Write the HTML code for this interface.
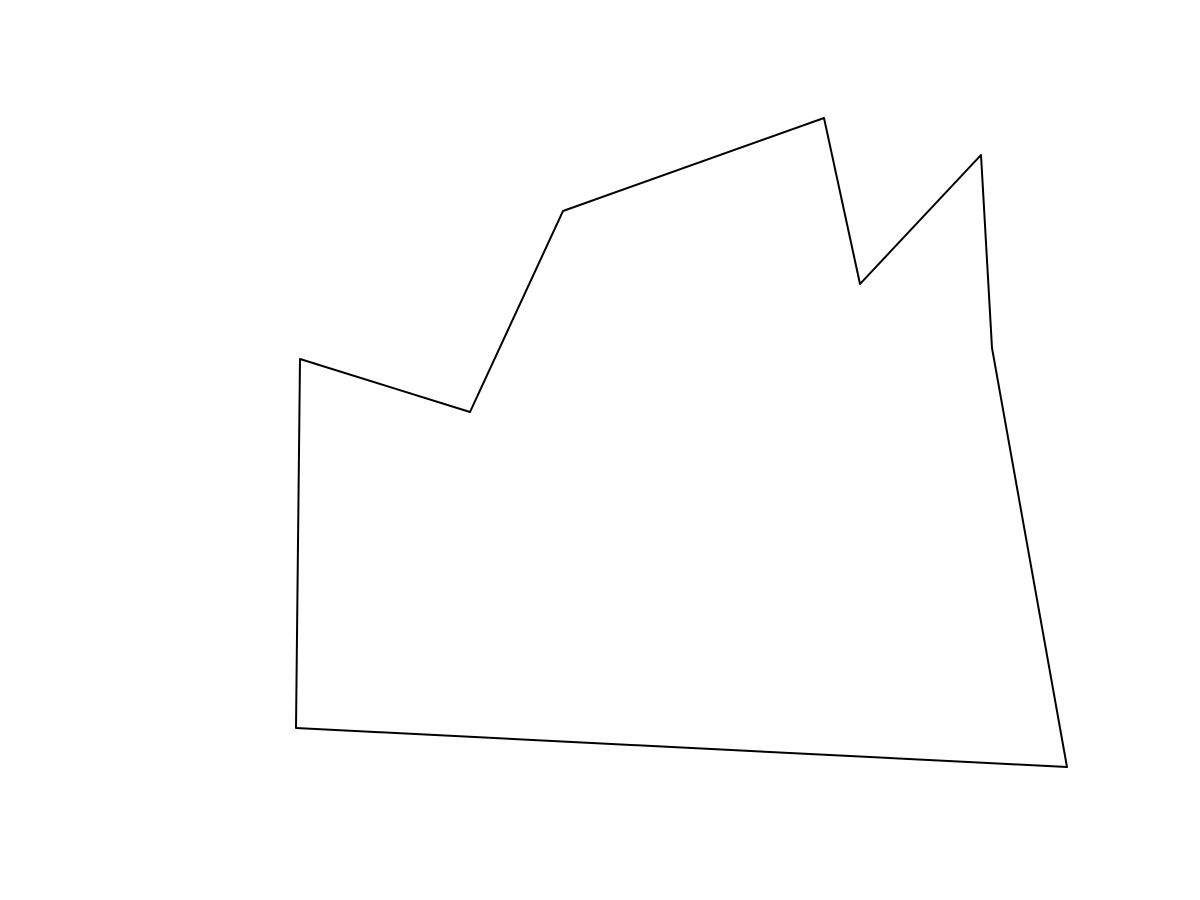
<!DOCTYPE html>
<html>
<head>
<meta charset="utf-8">
<style>
  html, body { margin: 0; padding: 0; background: #ffffff; }
  svg { display: block; }
</style>
</head>
<body>
<svg id="chart" width="1200" height="900" viewBox="0 0 1200 900">
  <rect x="0" y="0" width="1200" height="900" fill="#ffffff"></rect>
  <g id="plot"></g>
</svg>
<script>
// Vertex data (data units)
const xValues = [300, 470, 563, 824, 860, 981, 992, 1067, 296];
const yValues = [359, 412, 211, 118, 284, 155, 348, 767, 728];

// Axis functions (data domain maps onto the pixel range)
const xDomain = [0, 1200];
const yDomain = [0, 900];
function xScale(v) { return (v - xDomain[0]) / (xDomain[1] - xDomain[0]) * 1200; }
function yScale(v) { return (v - yDomain[0]) / (yDomain[1] - yDomain[0]) * 900; }

const ns = 'http://www.w3.org/2000/svg';
const plot = document.getElementById('plot');
const pts = xValues.map((x, i) => xScale(x).toFixed(1) + ',' + yScale(yValues[i]).toFixed(1)).join(' ');
const poly = document.createElementNS(ns, 'polygon');
poly.setAttribute('points', pts);
poly.setAttribute('fill', 'none');
poly.setAttribute('stroke', '#000000');
poly.setAttribute('stroke-width', '2');
poly.setAttribute('stroke-linejoin', 'round');


plot.appendChild(poly);
</script>
</body>
</html>
